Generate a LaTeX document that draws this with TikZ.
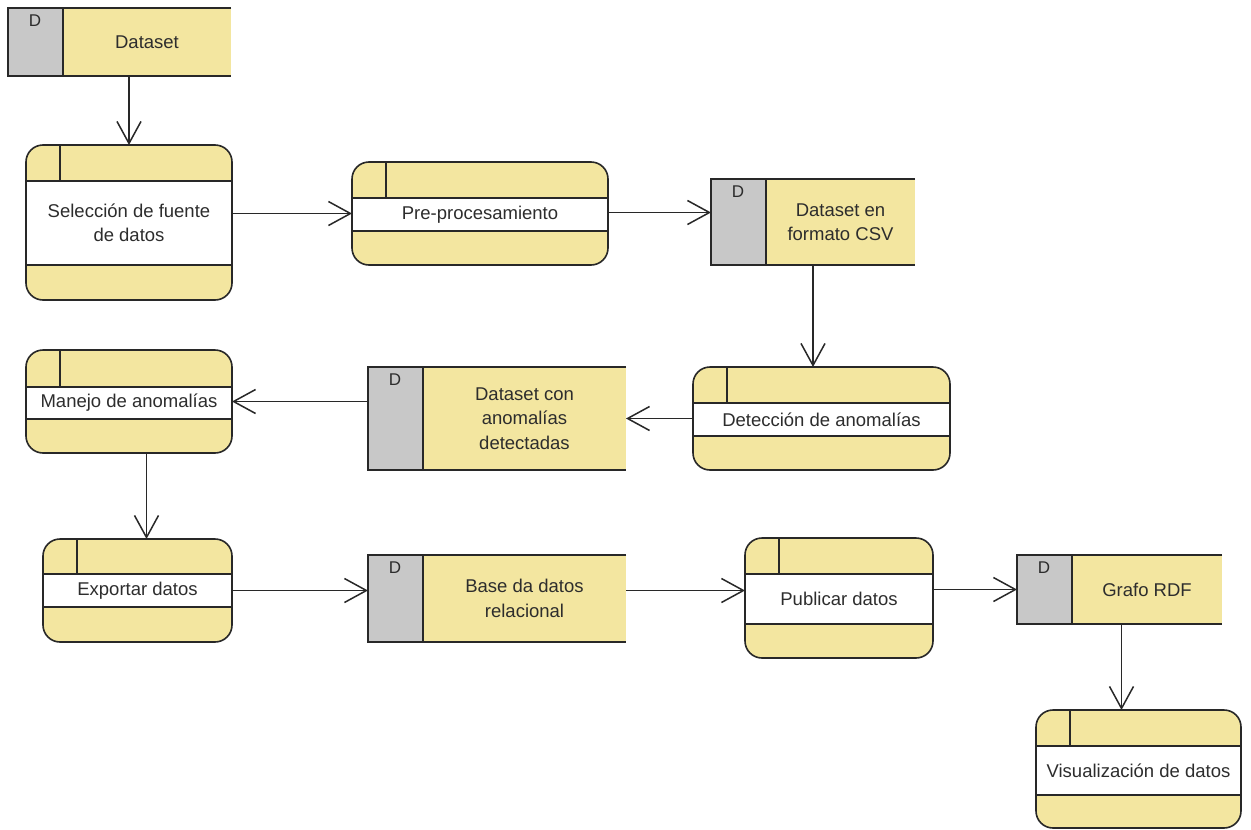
\documentclass[tikz,border=0pt]{standalone}
\usepackage{fontspec}
\setmainfont{Liberation Sans}
\usetikzlibrary{arrows.meta}
\definecolor{procfill}{RGB}{243,230,160}
\definecolor{grayfill}{RGB}{200,200,200}
\definecolor{linecol}{RGB}{40,40,40}
\definecolor{txtcol}{RGB}{45,45,45}
\tikzset{
  boxline/.style={draw=linecol, line width=1.6pt},
  hook/.style={inner sep=0pt, outer sep=0pt, draw=none, rectangle},
  lbl/.style={inner sep=0pt, align=center, text=txtcol, font=\fontsize{18.5}{24.5}\selectfont},
  dlbl/.style={inner sep=0pt, text=txtcol, font=\fontsize{17}{18}\selectfont},
  flow/.style={draw=linecol, line width=1.5pt, -{Straight Barb[length=22pt,width=24pt,line width=1.5pt]}},
}
\newcommand\procbox[8]{%
  \fill[procfill, rounded corners=17pt] (#2,#3) rectangle (#4,#5);
  \fill[white] (#2,#6) rectangle (#4,#7);
  \draw[boxline] (#2,#6) -- (#4,#6) (#2,#7) -- (#4,#7) ({#2+34},#3) -- ({#2+34},#6);
  \draw[boxline, rounded corners=17pt] (#2,#3) rectangle (#4,#5);
  \node[hook, minimum width={(#4-#2)*1pt}, minimum height={(#5-#3)*1pt}] (#1) at ({(#2+#4)/2},{(#3+#5)/2}) {};
  \node[lbl] at ({(#2+#4)/2},{(#6+#7)/2}) {#8};
}
\newcommand\storebox[6]{%
  \fill[procfill] (#2,#3) rectangle (#4,#5);
  \fill[grayfill] (#2,#3) rectangle ({#2+55},#5);
  \draw[boxline] (#4,#3) -- (#2,#3) -- (#2,#5) -- (#4,#5) ({#2+55},#3) -- ({#2+55},#5);
  \node[hook, minimum width={(#4-#2)*1pt}, minimum height={(#5-#3)*1pt}] (#1) at ({(#2+#4)/2},{(#3+#5)/2}) {};
  \node[lbl] at ({(#2+55+#4)/2},{(#3+#5)/2}) {#6};
  \node[dlbl] at ({#2+27},{#3+13}) {D};
}
\begin{document}
\begin{tikzpicture}[x=1pt,y=-1pt]
\useasboundingbox[fill=white] (0,0) rectangle (1251,830);
% stores
\storebox{ds}{8}{8}{231}{76}{Dataset}
\storebox{csv}{711}{179}{915}{265}{Dataset en\\formato CSV}
\storebox{dsc}{368}{367}{626}{470}{Dataset con\\anomalías\\detectadas}
\storebox{base}{368}{555}{626}{642}{Base da datos\\relacional}
\storebox{rdf}{1017}{555}{1222}{624}{Grafo RDF}
% processes
\procbox{sel}{26}{145}{232}{300}{181}{265}{Selección de fuente\\de datos}
\procbox{pre}{352}{162}{608}{265}{198}{231}{Pre-procesamiento}
\procbox{det}{693}{367}{950}{470}{403}{436}{Detección de anomalías}
\procbox{man}{26}{350}{232}{453}{387}{419}{Manejo de anomalías}
\procbox{exp}{43}{539}{232}{642}{574}{607}{Exportar datos}
\procbox{pub}{745}{538}{933}{658}{574}{624}{Publicar datos}
\procbox{vis}{1036}{710}{1241}{828}{746}{795}{Visualización de datos}
% connectors
\draw[flow] (sel.north |- ds.south) -- (sel.north);
\draw[flow] (sel.east |- pre.west) -- (pre.west);
\draw[flow] ([yshift=1pt]pre.east) -- ([yshift=1pt]pre.east -| csv.west);
\draw[flow] (csv.south) -- (csv.south |- det.north);
\draw[flow] (det.west) -- (dsc.east);
\draw[flow] (dsc.west |- man.east) -- (man.east);
\draw[flow] ([xshift=9pt]man.south -| exp.north) -- ([xshift=9pt]exp.north);
\draw[flow] (exp.east) -- (exp.east -| base.west);
\draw[flow] (exp.east -| base.east) -- (exp.east -| pub.west);
\draw[flow] (rdf.west -| pub.east) -- (rdf.west);
\draw[flow] ([xshift=2pt]rdf.south) -- ([xshift=2pt]rdf.south |- vis.north);
\end{tikzpicture}
\end{document}
